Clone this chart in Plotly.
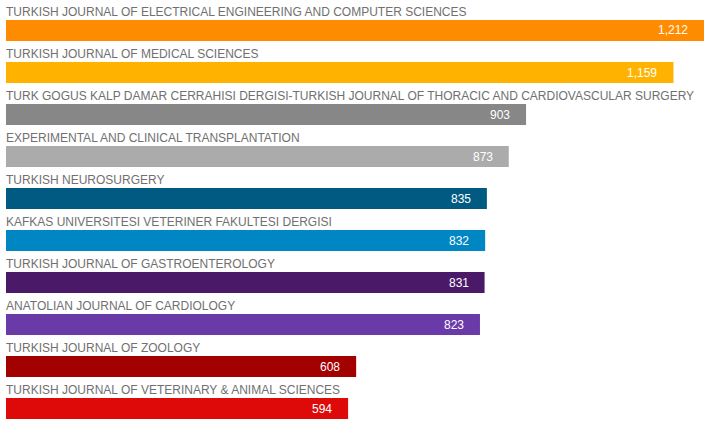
import plotly.graph_objects as go

journals = [
    "TURKISH JOURNAL OF ELECTRICAL ENGINEERING AND COMPUTER SCIENCES",
    "TURKISH JOURNAL OF MEDICAL SCIENCES",
    "TURK GOGUS KALP DAMAR CERRAHISI DERGISI-TURKISH JOURNAL OF THORACIC AND CARDIOVASCULAR SURGERY",
    "EXPERIMENTAL AND CLINICAL TRANSPLANTATION",
    "TURKISH NEUROSURGERY",
    "KAFKAS UNIVERSITESI VETERINER FAKULTESI DERGISI",
    "TURKISH JOURNAL OF GASTROENTEROLOGY",
    "ANATOLIAN JOURNAL OF CARDIOLOGY",
    "TURKISH JOURNAL OF ZOOLOGY",
    "TURKISH JOURNAL OF VETERINARY & ANIMAL SCIENCES",
]
counts = [1212, 1159, 903, 873, 835, 832, 831, 823, 608, 594]
colors = ["#FF8C00", "#FFB300", "#878787", "#ABABAB", "#005A82",
          "#0086C3", "#4A1968", "#6A3AA8", "#A30000", "#DE0A0A"]

pos = list(range(len(journals)))

fig = go.Figure(go.Bar(
    x=counts, y=pos, orientation="h", width=0.5,
    marker=dict(color=colors, line=dict(width=0)),
    hoverinfo="skip",
))

annotations = []
for i, (name, v) in enumerate(zip(journals, counts)):
    annotations.append(dict(
        x=0, y=i - 0.44, xref="x", yref="y", text=name, showarrow=False,
        xanchor="left", yanchor="middle", xshift=-2,
        font=dict(family="Liberation Sans, Arial, sans-serif", size=12, color="#707070"),
    ))
    annotations.append(dict(
        x=v, y=i, xref="x", yref="y", text=f"{v:,}", showarrow=False,
        xanchor="right", yanchor="middle", xshift=-14,
        font=dict(family="Liberation Sans, Arial, sans-serif", size=12, color="#ffffff"),
    ))

fig.update_layout(
    width=724, height=428,
    margin=dict(l=6, r=20, t=0, b=0),
    paper_bgcolor="white", plot_bgcolor="white",
    showlegend=False,
    xaxis=dict(range=[0, 1212], visible=False, fixedrange=True),
    yaxis=dict(range=[9.464, -0.726], visible=False, fixedrange=True),
    annotations=annotations,
)

fig.write_html("out.html", post_script="document.body.style.margin='0';",
               config={"displayModeBar": False})
